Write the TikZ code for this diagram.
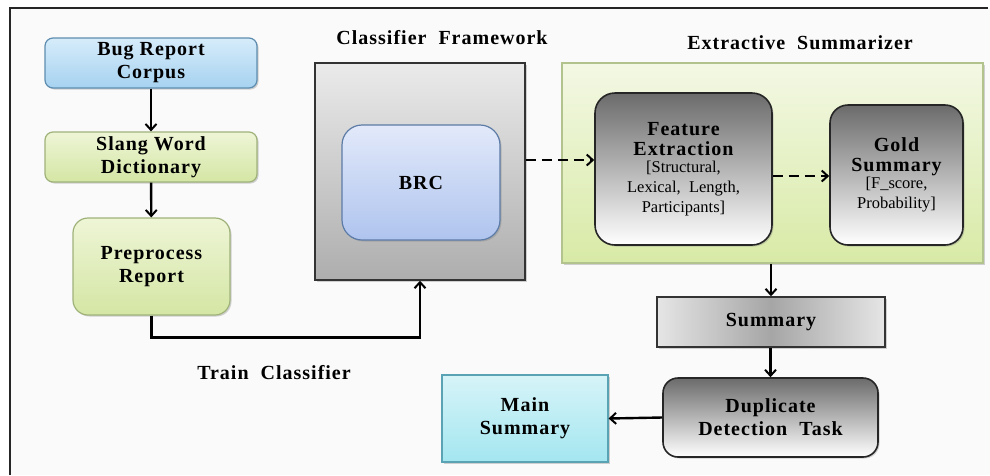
\documentclass[tikz,border=0pt]{standalone}
\usepackage{fontspec}
\setmainfont{Liberation Serif}[BoldFeatures={LetterSpace=5}]
\usetikzlibrary{arrows.meta,shadows,calc}
\definecolor{bluetop}{HTML}{D6ECFA}
\definecolor{bluebot}{HTML}{A6D2F0}
\definecolor{blueedge}{HTML}{5E8DB0}
\definecolor{greentop}{HTML}{EEF5D6}
\definecolor{greenbot}{HTML}{D4E6A4}
\definecolor{greenedge}{HTML}{9FB27A}
\definecolor{brctop}{HTML}{E2E9FA}
\definecolor{brcbot}{HTML}{AFC4EE}
\definecolor{brcedge}{HTML}{5C7BA6}
\definecolor{cyantop}{HTML}{D6F4F8}
\definecolor{cyanbot}{HTML}{A4E6F0}
\definecolor{cyanedge}{HTML}{5AA3B4}
\definecolor{exttop}{HTML}{F3F8E4}
\definecolor{extbot}{HTML}{D8EAA6}
\definecolor{extedge}{HTML}{B3C38E}
\newcommand{\subtxt}[1]{{\mdseries\fontsize{16.5}{17}\selectfont #1}}
\tikzset{
  box/.style={draw, line width=1.2pt, align=center, inner sep=2pt,
    drop shadow={shadow xshift=1.5pt, shadow yshift=-1.5pt, opacity=0.35}},
  bluebox/.style={box, rounded corners=8pt, draw=blueedge, top color=bluetop, bottom color=bluebot},
  greenbox/.style={box, rounded corners=8pt, draw=greenedge, top color=greentop, bottom color=greenbot},
  graybox/.style={box, draw=black!85, line width=1.6pt, top color=black!58, bottom color=white},
  ttl/.style={font=\bfseries\fontsize{20}{23}\selectfont},
  arr/.style={line width=2.4pt, -{Straight Barb[length=6pt,width=11pt,line width=2pt]}},
  darr/.style={line width=2.4pt, dash pattern=on 10pt off 6pt, -{Straight Barb[length=6pt,width=11pt,line width=2pt]}},
  lbl/.style={font=\bfseries\fontsize{20}{23}\selectfont}
}
\begin{document}
\begin{tikzpicture}[x=1pt,y=-1pt]
\useasboundingbox (0,0) rectangle (990,475);
\fill[black!2] (10,8) rectangle (990,475);
\draw[line width=2.4pt, black!85] (10,475) -- (10,8) -- (988,8);

% left column
\node[bluebox, ttl, minimum width=212pt, minimum height=50pt] (bug) at (151,63) {Bug Report\\Corpus};
\node[greenbox, ttl, minimum width=212pt, minimum height=50pt] (slang) at (151,157) {Slang\ Word\\Dictionary};
\node[greenbox, ttl, rounded corners=15pt, minimum width=157pt, minimum height=97pt] (pre) at (151.5,266.5) {Preprocess\\Report};

% classifier framework
\node[lbl] (cflbl) at (442,38) {Classifier\ \ Framework};
\node[box, draw=black!80, line width=1.5pt, top color=black!8, bottom color=black!32, minimum width=210pt, minimum height=217pt] (cf) at (420,171.5) {};
\node[box, rounded corners=20pt, draw=brcedge, top color=brctop, bottom color=brcbot, ttl, minimum width=158pt, minimum height=115pt] (brc) at (421,182.5) {BRC};

% extractive summarizer
\node[lbl] (exlbl) at (800,43) {Extractive\ \ Summarizer};
\node[box, draw=extedge, line width=1.2pt, top color=exttop, bottom color=extbot, minimum width=421pt, minimum height=200pt] (ext) at (772.5,163) {};
\node[graybox, rounded corners=20pt, minimum width=177pt, minimum height=152pt,
  font=\bfseries\fontsize{20}{20}\selectfont] (fe) at (683.5,169)
  {Feature\\Extraction\\[-3pt]\subtxt{[Structural,}\\\subtxt{Lexical,\ \ Length,}\\\subtxt{Participants]}};
\node[graybox, rounded corners=18pt, minimum width=133pt, minimum height=140pt,
  font=\bfseries\fontsize{20}{20}\selectfont] (gold) at (896.5,175)
  {Gold\\Summary\\[-3pt]\subtxt{[F\_score,}\\\subtxt{Probability]}};

% lower right
\node[box, draw=black!80, line width=1.5pt, left color=black!10, right color=black!10, middle color=black!35, ttl, minimum width=228pt, minimum height=50pt] (sum) at (771,322) {Summary};
\node[graybox, rounded corners=15pt, ttl, minimum width=215pt, minimum height=79pt] (dup) at (770.5,417.5) {Duplicate\\Detection\ \ Task};
\node[box, draw=cyanedge, top color=cyantop, bottom color=cyanbot, ttl, minimum width=166pt, minimum height=87pt] (main) at (525,418.5) {Main\\Summary};

\node[lbl] (train) at (274,373) {Train\ \ Classifier};

% connectors
\draw[arr] (bug) -- (slang);
\draw[arr] (slang) -- (pre);
\draw[arr] (pre.south) -- ++(0,22) -| (cf.south);
\draw[darr] ([yshift=11.5pt]cf.east) -- ([yshift=11.5pt]cf.east -| fe.west);
\draw[darr] ([yshift=-7pt]fe.east) -- ([yshift=-7pt]fe.east -| gold.west);
\draw[arr] (ext.south -| sum.north) -- (sum.north);
\draw[arr] (sum.south -| dup.north) -- (dup.north);
\draw[arr] (dup.west) -- (main.east);
\end{tikzpicture}
\end{document}
